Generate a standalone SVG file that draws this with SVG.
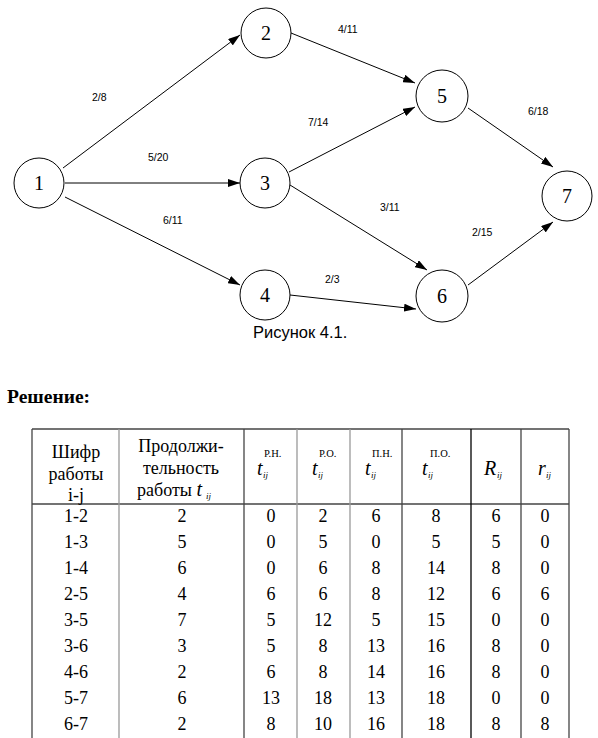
<svg xmlns="http://www.w3.org/2000/svg" width="598" height="738" viewBox="0 0 598 738">
<style>
.node circle{fill:#fff;stroke:#000;stroke-width:1}
.node text{font-family:"Liberation Serif",serif;font-size:20px;text-anchor:middle;fill:#000}
.edge{stroke:#000;stroke-width:1;fill:none;marker-end:url(#arr)}
.lbl{font-family:"Liberation Sans",Arial,sans-serif;font-size:10.5px;fill:#000}
.cap{font-family:"Liberation Sans",Arial,sans-serif;font-size:16.5px;fill:#000}
.tt{font-family:"Liberation Serif","Times New Roman",serif;font-size:18px;fill:#000}
.c{text-anchor:middle}
.it{font-style:italic;font-size:20px}
.sm{font-size:10.5px}
.smi{font-size:9px;font-style:italic}
.gl{stroke:#999;stroke-width:1.3}
.dl{stroke:#444;stroke-width:1.3}
.bl{stroke:#000;stroke-width:1.3}
</style>
<defs>
<marker id="arr" markerWidth="12" markerHeight="8" refX="12" refY="4" orient="auto" markerUnits="userSpaceOnUse">
<path d="M0,0 L12,4 L0,8 z" fill="#000"/>
</marker>
</defs>
<rect width="598" height="738" fill="#fff"/>
<g id="connectors">
<line class="edge" x1="63" y1="168" x2="240" y2="35"/>
<line class="edge" x1="65" y1="183" x2="240" y2="183"/>
<line class="edge" x1="65" y1="197" x2="240" y2="285"/>
<line class="edge" x1="291" y1="33" x2="415" y2="83"/>
<line class="edge" x1="289" y1="172" x2="415" y2="107"/>
<line class="edge" x1="290" y1="185" x2="427" y2="270"/>
<line class="edge" x1="290" y1="295" x2="416" y2="309"/>
<line class="edge" x1="468" y1="108" x2="553" y2="167"/>
<line class="edge" x1="468" y1="285" x2="553" y2="222"/>
<text class="lbl" x="92" y="101">2/8</text>
<text class="lbl" x="148" y="161">5/20</text>
<text class="lbl" x="163" y="224">6/11</text>
<text class="lbl" x="338" y="33">4/11</text>
<text class="lbl" x="308" y="126">7/14</text>
<text class="lbl" x="380" y="211">3/11</text>
<text class="lbl" x="325" y="283">2/3</text>
<text class="lbl" x="528" y="115">6/18</text>
<text class="lbl" x="472" y="236">2/15</text>
</g>
<g id="n1" class="node"><circle cx="39" cy="183" r="25"/><text x="39" y="190">1</text></g>
<g id="n2" class="node"><circle cx="266" cy="33" r="25"/><text x="266" y="40">2</text></g>
<g id="n3" class="node"><circle cx="265" cy="183" r="25"/><text x="265" y="190">3</text></g>
<g id="n4" class="node"><circle cx="265" cy="295" r="25"/><text x="265" y="302">4</text></g>
<g id="n5" class="node"><circle cx="442" cy="96" r="26"/><text x="442" y="103">5</text></g>
<g id="n6" class="node"><circle cx="442" cy="296" r="26"/><text x="442" y="303">6</text></g>
<g id="n7" class="node"><circle cx="567" cy="196" r="25"/><text x="567" y="203">7</text></g>
<text class="cap" x="253" y="338">Рисунок 4.1.</text>
<text x="7" y="403" font-family="Liberation Serif,serif" font-weight="bold" font-size="19.5">Решение:</text>
<g id="table">
<line class="dl" x1="32" y1="429" x2="569" y2="429"/>
<line class="dl" x1="32" y1="504" x2="569" y2="504"/>
<line class="dl" x1="32" y1="429" x2="32" y2="738"/>
<line class="gl" x1="119" y1="429" x2="119" y2="738"/>
<line class="dl" x1="244" y1="429" x2="244" y2="738"/>
<line class="gl" x1="297" y1="429" x2="297" y2="738"/>
<line class="gl" x1="350" y1="429" x2="350" y2="738"/>
<line class="dl" x1="402" y1="429" x2="402" y2="738"/>
<line class="bl" x1="471" y1="429" x2="471" y2="738"/>
<line class="dl" x1="521" y1="429" x2="521" y2="738"/>
<line class="dl" x1="569" y1="429" x2="569" y2="738"/>
<text class="tt c" x="76" y="458">Шифр</text>
<text class="tt c" x="76" y="480">работы</text>
<text class="tt c" x="76" y="501">i-j</text>
<text class="tt c" x="181" y="452">Продолжи-</text>
<text class="tt c" x="181" y="474">тельность</text>
<text class="tt" x="137" y="496">работы <tspan class="it">t</tspan></text>
<text class="tt smi" x="206" y="499">ij</text>
<text class="tt it" x="257" y="475">t</text><text class="tt smi" x="263" y="478">ij</text><text class="tt sm" x="264" y="457">Р.Н.</text>
<text class="tt it" x="312" y="475">t</text><text class="tt smi" x="318" y="478">ij</text><text class="tt sm" x="319" y="457">Р.О.</text>
<text class="tt it" x="365" y="475">t</text><text class="tt smi" x="371" y="478">ij</text><text class="tt sm" x="372" y="457">П.Н.</text>
<text class="tt it" x="422" y="475">t</text><text class="tt smi" x="428" y="478">ij</text><text class="tt sm" x="430" y="457">П.О.</text>
<text class="tt it" x="484" y="475">R</text><text class="tt smi" x="497" y="478">ij</text>
<text class="tt it" x="538" y="475">r</text><text class="tt smi" x="546" y="478">ij</text>
<g class="tt c">
<text x="76" y="522">1-2</text><text x="182" y="522">2</text><text x="271" y="522">0</text><text x="323" y="522">2</text><text x="376" y="522">6</text><text x="436" y="522">8</text><text x="496" y="522">6</text><text x="545" y="522">0</text>
<text x="76" y="548">1-3</text><text x="182" y="548">5</text><text x="271" y="548">0</text><text x="323" y="548">5</text><text x="376" y="548">0</text><text x="436" y="548">5</text><text x="496" y="548">5</text><text x="545" y="548">0</text>
<text x="76" y="574">1-4</text><text x="182" y="574">6</text><text x="271" y="574">0</text><text x="323" y="574">6</text><text x="376" y="574">8</text><text x="436" y="574">14</text><text x="496" y="574">8</text><text x="545" y="574">0</text>
<text x="76" y="600">2-5</text><text x="182" y="600">4</text><text x="271" y="600">6</text><text x="323" y="600">6</text><text x="376" y="600">8</text><text x="436" y="600">12</text><text x="496" y="600">6</text><text x="545" y="600">6</text>
<text x="76" y="626">3-5</text><text x="182" y="626">7</text><text x="271" y="626">5</text><text x="323" y="626">12</text><text x="376" y="626">5</text><text x="436" y="626">15</text><text x="496" y="626">0</text><text x="545" y="626">0</text>
<text x="76" y="652">3-6</text><text x="182" y="652">3</text><text x="271" y="652">5</text><text x="323" y="652">8</text><text x="376" y="652">13</text><text x="436" y="652">16</text><text x="496" y="652">8</text><text x="545" y="652">0</text>
<text x="76" y="678">4-6</text><text x="182" y="678">2</text><text x="271" y="678">6</text><text x="323" y="678">8</text><text x="376" y="678">14</text><text x="436" y="678">16</text><text x="496" y="678">8</text><text x="545" y="678">0</text>
<text x="76" y="704">5-7</text><text x="182" y="704">6</text><text x="271" y="704">13</text><text x="323" y="704">18</text><text x="376" y="704">13</text><text x="436" y="704">18</text><text x="496" y="704">0</text><text x="545" y="704">0</text>
<text x="76" y="730">6-7</text><text x="182" y="730">2</text><text x="271" y="730">8</text><text x="323" y="730">10</text><text x="376" y="730">16</text><text x="436" y="730">18</text><text x="496" y="730">8</text><text x="545" y="730">8</text>
</g>
</g>
</svg>
